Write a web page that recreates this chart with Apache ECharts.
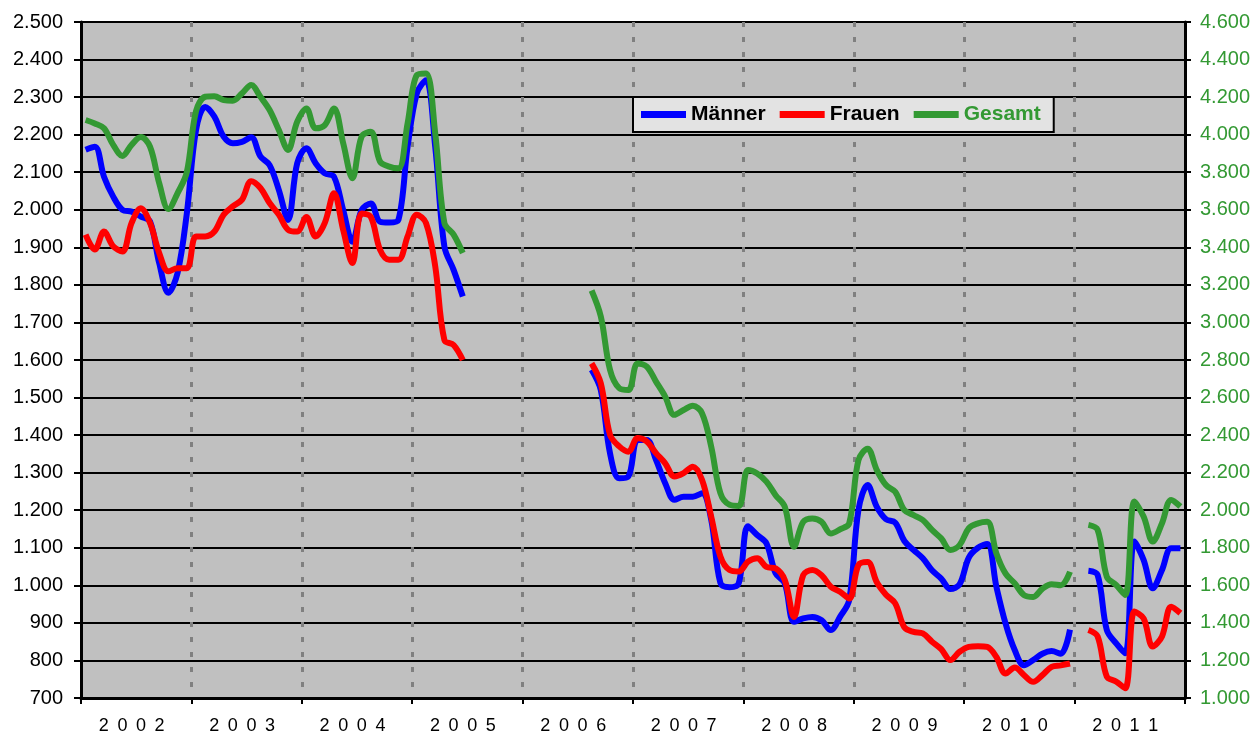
<!DOCTYPE html>
<html>
<head>
<meta charset="utf-8">
<script src="https://cdn.jsdelivr.net/npm/echarts@6/dist/echarts.min.js"></script>
<style>
  html, body { margin: 0; padding: 0; background: #fff; }
  #chart { width: 1255px; height: 738px; }
</style>
</head>
<body>
<div id="chart"></div>
<script>
// Jahre und Monate
const years = ["2002", "2003", "2004", "2005", "2006", "2007", "2008", "2009", "2010", "2011"];
const months = [];
years.forEach(y => { for (let m = 1; m <= 12; m++) months.push(y + "-" + m); });

// Monatswerte (linke Achse)
const maenner = [
  2160, 2168, 2088, 2035, 2000, 1995, 1982, 1969, 1858, 1779, 1832, 1990,
  2212, 2274, 2248, 2195, 2177, 2181, 2193, 2142, 2119, 2053, 1973, 2124,
  2164, 2124, 2097, 2088, 1999, 1915, 1999, 2017, 1968, 1966, 1973, 2168,
  2310, 2345, 2168, 1902, 1840, 1769, null, null, null, null, null, null,
  null, null, null, null, null, null, null, 1574, 1520, 1352, 1285, 1290,
  1387, 1387, 1334, 1272, 1228, 1236, 1236, 1245, 1175, 1006, 995, 1006,
  1157, 1134, 1112, 1032, 1005, 903, 912, 916, 907, 881, 916, 961,
  1200, 1267, 1209, 1176, 1167, 1118, 1094, 1072, 1040, 1018, 990, 1003,
  1074, 1100, 1110, 996, 898, 827, 787, 801, 818, 825, 818, 882,
  null, 1039, 1028, 881, 846, 819, 1117, 1068, 992, 1041, 1099, 1099
];
const frauen = [
  1934, 1894, 1942, 1903, 1889, 1965, 2004, 1965, 1885, 1836, 1844, 1844,
  1929, 1929, 1942, 1987, 2009, 2027, 2076, 2058, 2018, 1987, 1947, 1942,
  1981, 1929, 1965, 2044, 1946, 1858, 1990, 1981, 1894, 1867, 1867, 1929,
  1987, 1965, 1850, 1653, 1640, 1600, null, null, null, null, null, null,
  null, null, null, null, null, null, null, 1591, 1538, 1401, 1370, 1356,
  1392, 1383, 1352, 1325, 1290, 1299, 1316, 1281, 1183, 1077, 1041, 1037,
  1063, 1072, 1049, 1045, 1014, 916, 1027, 1041, 1027, 996, 983, 965,
  1054, 1062, 1008, 975, 952, 888, 876, 872, 850, 830, 801, 823,
  836, 838, 836, 809, 765, 781, 761, 743, 761, 783, 787, 792,
  null, 881, 864, 757, 744, 726, 930, 912, 837, 864, 943, 926
];
// Gesamt (rechte Achse)
const gesamt = [
  4078, 4060, 4034, 3946, 3887, 3946, 3987, 3936, 3742, 3604, 3689, 3800,
  4125, 4202, 4205, 4184, 4181, 4220, 4264, 4202, 4131, 4025, 3919, 4069,
  4140, 4034, 4051, 4140, 3954, 3768, 3990, 4016, 3857, 3830, 3821, 4060,
  4317, 4326, 4008, 3530, 3468, 3370, null, null, null, null, null, null,
  null, null, null, null, null, null, null, 3170, 3032, 2748, 2650, 2640,
  2782, 2765, 2685, 2605, 2508, 2534, 2556, 2517, 2339, 2091, 2029, 2023,
  2214, 2196, 2152, 2080, 2018, 1806, 1938, 1956, 1938, 1876, 1898, 1930,
  2266, 2328, 2214, 2134, 2098, 2000, 1974, 1948, 1895, 1850, 1788, 1814,
  1904, 1930, 1938, 1770, 1662, 1610, 1548, 1538, 1582, 1606, 1600, 1672,
  null, 1922, 1896, 1646, 1602, 1549, 2046, 1966, 1833, 1931, 2055, 2020
];

const font = "'Liberation Sans', Arial, sans-serif";
const green = "#339933";

// 1.234 statt 1234
function fmt(v) {
  if (v < 1000) return String(v);
  return Math.floor(v / 1000) + "." + String(v % 1000).padStart(3, "0");
}

const chart = echarts.init(document.getElementById("chart"), null, { renderer: "canvas" });

chart.setOption({
  animation: false,
  backgroundColor: "#ffffff",
  grid: {
    left: 81, right: 70, top: 22, bottom: 40,
    show: true,
    backgroundColor: "#c0c0c0",
    borderColor: "#808080",
    borderWidth: 2
  },
  legend: {
    left: 633, top: 97,
    orient: "horizontal",
    backgroundColor: "#e3e3e3",
    borderColor: "#000",
    borderWidth: 2,
    borderRadius: 0,
    padding: [7, 13, 7, 8],
    itemGap: 14,
    itemWidth: 45,
    itemHeight: 7,
    icon: "rect",
    textStyle: { fontFamily: font, fontSize: 21, fontWeight: "bold", color: "#000" },
    data: [
      { name: "Männer" },
      { name: "Frauen" },
      { name: "Gesamt", textStyle: { color: green } }
    ]
  },
  xAxis: [
    {
      type: "category",
      data: years,
      boundaryGap: true,
      position: "bottom",
      axisLine: { show: true, lineStyle: { color: "#000", width: 3 } },
      axisTick: { show: true, interval: 0, length: 6, lineStyle: { color: "#000", width: 2 } },
      axisLabel: {
        interval: 0,
        margin: 19,
        fontFamily: font,
        fontSize: 18,
        color: "#000",
        padding: [0, 9, 0, 0],
        formatter: v => v.split("").join(" \u2009")
      },
      splitLine: { show: true, interval: 0, lineStyle: { color: "#808080", width: 3, type: [5, 10] } }
    },
    {
      type: "category",
      data: months,
      boundaryGap: true,
      show: false
    }
  ],
  yAxis: [
    {
      type: "value",
      min: 700, max: 2500, interval: 100,
      axisLine: { show: true, lineStyle: { color: "#000", width: 3 } },
      axisTick: { show: true, length: 7, lineStyle: { color: "#000", width: 2 } },
      axisLabel: { margin: 18, fontFamily: font, fontSize: 20, color: "#000", formatter: fmt },
      splitLine: { show: true, lineStyle: { color: "#000", width: 2 } }
    },
    {
      type: "value",
      position: "right",
      min: 1000, max: 4600, interval: 200,
      axisLine: { show: true, lineStyle: { color: "#000", width: 3 } },
      axisTick: { show: true, length: 6, lineStyle: { color: "#000", width: 2 } },
      axisLabel: { margin: 15, fontFamily: font, fontSize: 20, color: green, formatter: fmt },
      splitLine: { show: false }
    }
  ],
  series: [
    {
      name: "Männer", type: "line", xAxisIndex: 1, yAxisIndex: 0,
      data: maenner, smooth: 0.35, showSymbol: false, connectNulls: false,
      itemStyle: { color: "#0000ff" },
      lineStyle: { color: "#0000ff", width: 6 }
    },
    {
      name: "Frauen", type: "line", xAxisIndex: 1, yAxisIndex: 0,
      data: frauen, smooth: 0.35, showSymbol: false, connectNulls: false,
      itemStyle: { color: "#ff0000" },
      lineStyle: { color: "#ff0000", width: 6 }
    },
    {
      name: "Gesamt", type: "line", xAxisIndex: 1, yAxisIndex: 1,
      data: gesamt, smooth: 0.35, showSymbol: false, connectNulls: false,
      itemStyle: { color: green },
      lineStyle: { color: green, width: 6 }
    }
  ]
});
</script>
</body>
</html>
